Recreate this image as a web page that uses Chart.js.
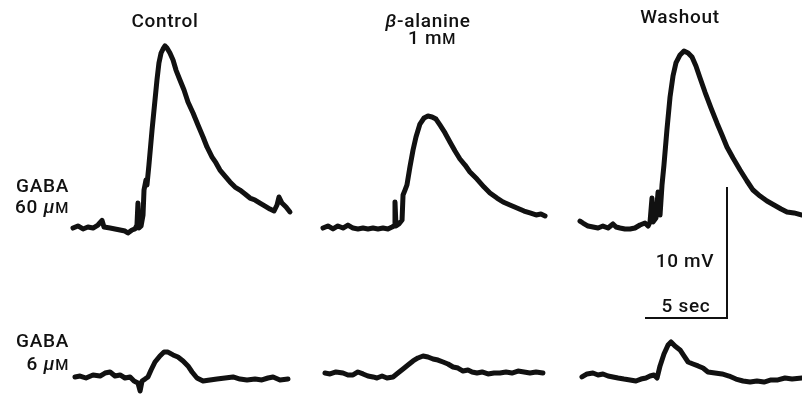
<!DOCTYPE html>
<html>
<head>
<meta charset="utf-8">
<script src="https://cdn.jsdelivr.net/npm/chart.js@4.4.1/dist/chart.umd.min.js"></script>
<style>
  html, body { margin: 0; padding: 0; background: #ffffff; }
  #wrap { width: 802px; height: 394px; }
</style>
</head>
<body>
<div id="wrap"><canvas id="c" width="802" height="394"></canvas></div>
<script>
// ---------------- DATA (time in s from trace start, potential in mV from baseline) ----------------
const conditions = ["Control", "β-alanine 1 mM", "Washout"];
const gabaDoses = ["GABA 60 μM", "GABA 6 μM"];

// GABA 60 µM, Control
const t60Control = [0,0.30,0.61,0.91,1.22,1.52,1.77,1.89,2.26,2.56,2.87,3.17,3.35,3.60,3.78,3.90,3.96,4.02,4.15,4.27,4.33,4.45,4.51,4.63,4.82,5.00,5.12,5.24,5.37,5.49,5.61,5.73,5.91,6.10,6.28,6.52,6.77,7.01,7.32,7.62,7.93,8.17,8.48,8.72,8.96,9.27,9.57,9.88,10.18,10.49,10.79,11.10,11.40,11.71,12.01,12.26,12.44,12.56,12.74,12.99,13.23];
const v60Control = [-0.08,0.08,-0.15,0,-0.08,0.15,0.50,0,-0.08,-0.15,-0.23,-0.31,-0.46,-0.23,-0.15,0.15,1.83,-0.08,0.08,0.92,2.82,3.59,3.21,4.73,7.40,9.69,11.22,12.52,13.28,13.59,13.82,13.66,13.28,12.75,11.98,11.22,10.46,9.54,8.70,7.79,6.87,6.11,5.34,4.89,4.35,3.89,3.44,3.05,2.82,2.52,2.21,2.06,1.83,1.60,1.37,1.22,1.68,2.29,1.83,1.53,1.15];

// GABA 60 µM, β-alanine 1 mM
const t60Bala = [0,0.30,0.61,0.91,1.22,1.52,1.83,2.13,2.44,2.74,3.05,3.35,3.66,3.96,4.21,4.33,4.39,4.45,4.63,4.82,4.88,5.00,5.12,5.30,5.49,5.67,5.91,6.16,6.40,6.65,6.89,7.13,7.44,7.74,8.05,8.35,8.66,8.96,9.39,9.82,10.18,10.61,10.98,11.40,11.83,12.26,12.62,12.99,13.29,13.54];
const v60Bala = [-0.08,0.08,-0.15,0.08,-0.08,0.15,-0.08,-0.15,-0.08,-0.15,-0.08,-0.15,-0.08,-0.15,0,0.08,1.91,0.08,0.23,0.53,2.44,2.82,3.21,4.58,5.88,6.87,7.86,8.32,8.47,8.40,8.24,7.79,7.18,6.49,5.80,5.19,4.73,4.20,3.66,3.05,2.60,2.21,1.91,1.68,1.45,1.22,1.07,0.92,0.99,0.84];

// GABA 60 µM, Washout
const t60Wash = [0,0.18,0.49,0.79,1.10,1.40,1.71,2.01,2.20,2.44,2.74,3.05,3.35,3.66,3.96,4.15,4.27,4.39,4.45,4.63,4.76,4.88,5.00,5.12,5.30,5.49,5.67,5.85,6.10,6.34,6.59,6.83,7.07,7.32,7.62,7.99,8.35,8.66,8.96,9.33,9.76,10.18,10.55,10.98,11.40,11.83,12.26,12.62,13.05,13.54];
const v60Wash = [0.30,0.15,-0.08,-0.15,-0.23,-0.08,-0.23,0.08,-0.15,-0.23,-0.31,-0.31,-0.23,0,0.15,-0.08,0.23,2.06,0.23,0.53,2.52,0.76,3.05,4.58,7.25,9.77,11.37,12.37,12.98,13.28,13.13,12.82,12.14,11.22,10.15,8.93,7.79,6.87,5.95,5.11,4.20,3.36,2.67,2.21,1.83,1.53,1.22,0.99,0.92,0.76];

// GABA 6 µM, Control
const t6Control = [0.12,0.43,0.79,1.22,1.65,1.95,2.26,2.56,2.87,3.17,3.48,3.72,3.96,4.09,4.21,4.39,4.57,4.76,5.00,5.30,5.55,5.79,6.10,6.40,6.71,7.01,7.26,7.56,7.93,8.35,8.78,9.27,9.76,10.18,10.61,11.10,11.52,11.89,12.20,12.62,13.11];
const v6Control = [0.08,0.15,0,0.23,0.15,0.38,0.46,0.15,0.23,0,0.08,-0.23,-0.38,-0.99,-0.23,-0.08,0.08,0.61,1.22,1.68,1.98,1.98,1.76,1.60,1.30,0.92,0.46,0,-0.23,-0.15,-0.08,0,0.08,-0.08,-0.15,-0.08,-0.15,0,0.08,-0.15,-0.08];

// GABA 6 µM, β-alanine 1 mM
const t6Bala = [0.12,0.43,0.79,1.22,1.52,1.83,2.13,2.44,2.74,3.05,3.29,3.60,3.90,4.27,4.57,4.88,5.18,5.49,5.79,6.10,6.40,6.71,7.01,7.32,7.62,7.93,8.23,8.54,8.84,9.09,9.39,9.70,10.06,10.43,10.79,11.16,11.52,11.89,12.26,12.62,12.99,13.41];
const v6Bala = [0.38,0.31,0.46,0.38,0.23,0.23,0.46,0.31,0.15,0.08,0,0.15,0,0.08,0.38,0.69,0.99,1.30,1.53,1.68,1.60,1.45,1.37,1.22,1.07,0.84,0.76,0.53,0.61,0.46,0.38,0.46,0.31,0.38,0.38,0.46,0.38,0.53,0.46,0.38,0.46,0.38];

// GABA 6 µM, Washout
const t6Wash = [0.12,0.43,0.79,1.10,1.40,1.71,2.01,2.32,2.68,3.05,3.41,3.72,4.02,4.27,4.51,4.70,4.88,5.12,5.37,5.55,5.79,6.10,6.34,6.59,6.89,7.20,7.50,7.80,8.23,8.66,9.09,9.51,9.94,10.37,10.79,11.22,11.65,12.07,12.50,12.93,13.54];
const v6Wash = [0.08,0.31,0.38,0.23,0.31,0.15,0.08,0,-0.08,-0.15,-0.23,-0.08,0,0.15,0.23,0,0.92,1.83,2.52,2.75,2.44,2.14,1.68,1.22,1.07,0.92,0.76,0.46,0.38,0.31,0.15,-0.08,-0.23,-0.31,-0.23,-0.31,-0.15,-0.15,0,-0.08,0];

// Calibration bar values
const barTime = [5];   // sec
const barVolt = [10];  // mV

// ---------------- LAYOUT (pixel geometry of the figure) ----------------
const W = 802, H = 394;
const PX_PER_S = 16.4, PX_PER_MV = 13.1;
const traces = [
  { t: t60Control, v: v60Control, ox: 73,  oy: 227 },
  { t: t60Bala,    v: v60Bala,    ox: 323, oy: 227 },
  { t: t60Wash,    v: v60Wash,    ox: 580, oy: 225 },
  { t: t6Control,  v: v6Control,  ox: 73,  oy: 378 },
  { t: t6Bala,     v: v6Bala,     ox: 323, oy: 378 },
  { t: t6Wash,     v: v6Wash,     ox: 580, oy: 378 }
];
const barCorner = { x: 727, y: 318 };

const xOff = px => px / PX_PER_S;
const yOff = py => (H - py) / PX_PER_MV;

const datasets = traces.map(tr => ({
  data: tr.t.map((t, i) => ({ x: xOff(tr.ox) + t, y: yOff(tr.oy) + tr.v[i] })),
  showLine: true,
  borderColor: '#111',
  borderWidth: 5,
  pointRadius: 0,
  tension: 0,
  borderJoinStyle: 'round',
  borderCapStyle: 'round',
  clip: false
}));
// Calibration bar: horizontal 5 s, vertical 10 mV
const bx = xOff(barCorner.x), by = yOff(barCorner.y);
datasets.push({
  data: [{ x: bx - barTime[0], y: by }, { x: bx, y: by }, { x: bx, y: by + barVolt[0] }],
  showLine: true,
  borderColor: '#111',
  borderWidth: 2,
  pointRadius: 0,
  tension: 0,
  clip: false
});

const FONT = 'Roboto, "Liberation Sans", Arial, sans-serif';
function drawParts(ctx, parts, x, y, align) {
  let total = 0;
  const widths = parts.map(p => {
    ctx.font = p.font;
    const w = ctx.measureText(p.text).width;
    total += w;
    return w;
  });
  let cx = align === 'right' ? x - total : align === 'center' ? x - total / 2 : x;
  parts.forEach((p, i) => {
    ctx.font = p.font;
    ctx.fillText(p.text, cx, y);
    cx += widths[i];
  });
}
const S = 19;
const reg = `500 ${S}px ${FONT}`;
const ital = `italic 500 ${S}px ${FONT}`;
const smallCap = `500 ${Math.round(S * 0.78)}px ${FONT}`;

const labelPlugin = {
  id: 'labels',
  afterDraw(chart) {
    const ctx = chart.ctx;
    ctx.save();
    ctx.fillStyle = '#111';
    ctx.textBaseline = 'alphabetic';
    try { ctx.letterSpacing = '0.7px'; } catch (e) {}
    // column headers
    drawParts(ctx, [{ text: 'Control', font: reg }], 165, 27, 'center');
    drawParts(ctx, [{ text: 'β', font: ital }, { text: '-alanine', font: reg }], 428, 27, 'center');
    drawParts(ctx, [{ text: '1 m', font: reg }, { text: 'M', font: smallCap }], 432, 44, 'center');
    drawParts(ctx, [{ text: 'Washout', font: reg }], 680, 23, 'center');
    // row labels
    drawParts(ctx, [{ text: 'GABA', font: reg }], 69, 192, 'right');
    drawParts(ctx, [{ text: '60 ', font: reg }, { text: 'μ', font: ital }, { text: 'M', font: smallCap }], 69, 213, 'right');
    drawParts(ctx, [{ text: 'GABA', font: reg }], 69, 347, 'right');
    drawParts(ctx, [{ text: '6 ', font: reg }, { text: 'μ', font: ital }, { text: 'M', font: smallCap }], 69, 370, 'right');
    // calibration labels
    drawParts(ctx, [{ text: '10 mV', font: reg }], 685, 267, 'center');
    drawParts(ctx, [{ text: '5 sec', font: reg }], 686, 312, 'center');
    ctx.restore();
  }
};

new Chart(document.getElementById('c'), {
  type: 'scatter',
  data: { datasets },
  options: {
    responsive: false,
    devicePixelRatio: 1,
    animation: false,
    layout: { padding: 0 },
    plugins: { legend: { display: false }, tooltip: { enabled: false }, title: { display: false } },
    scales: {
      x: { type: 'linear', display: false, min: 0, max: W / PX_PER_S },
      y: { type: 'linear', display: false, min: 0, max: H / PX_PER_MV }
    }
  },
  plugins: [labelPlugin]
});
</script>
</body>
</html>
